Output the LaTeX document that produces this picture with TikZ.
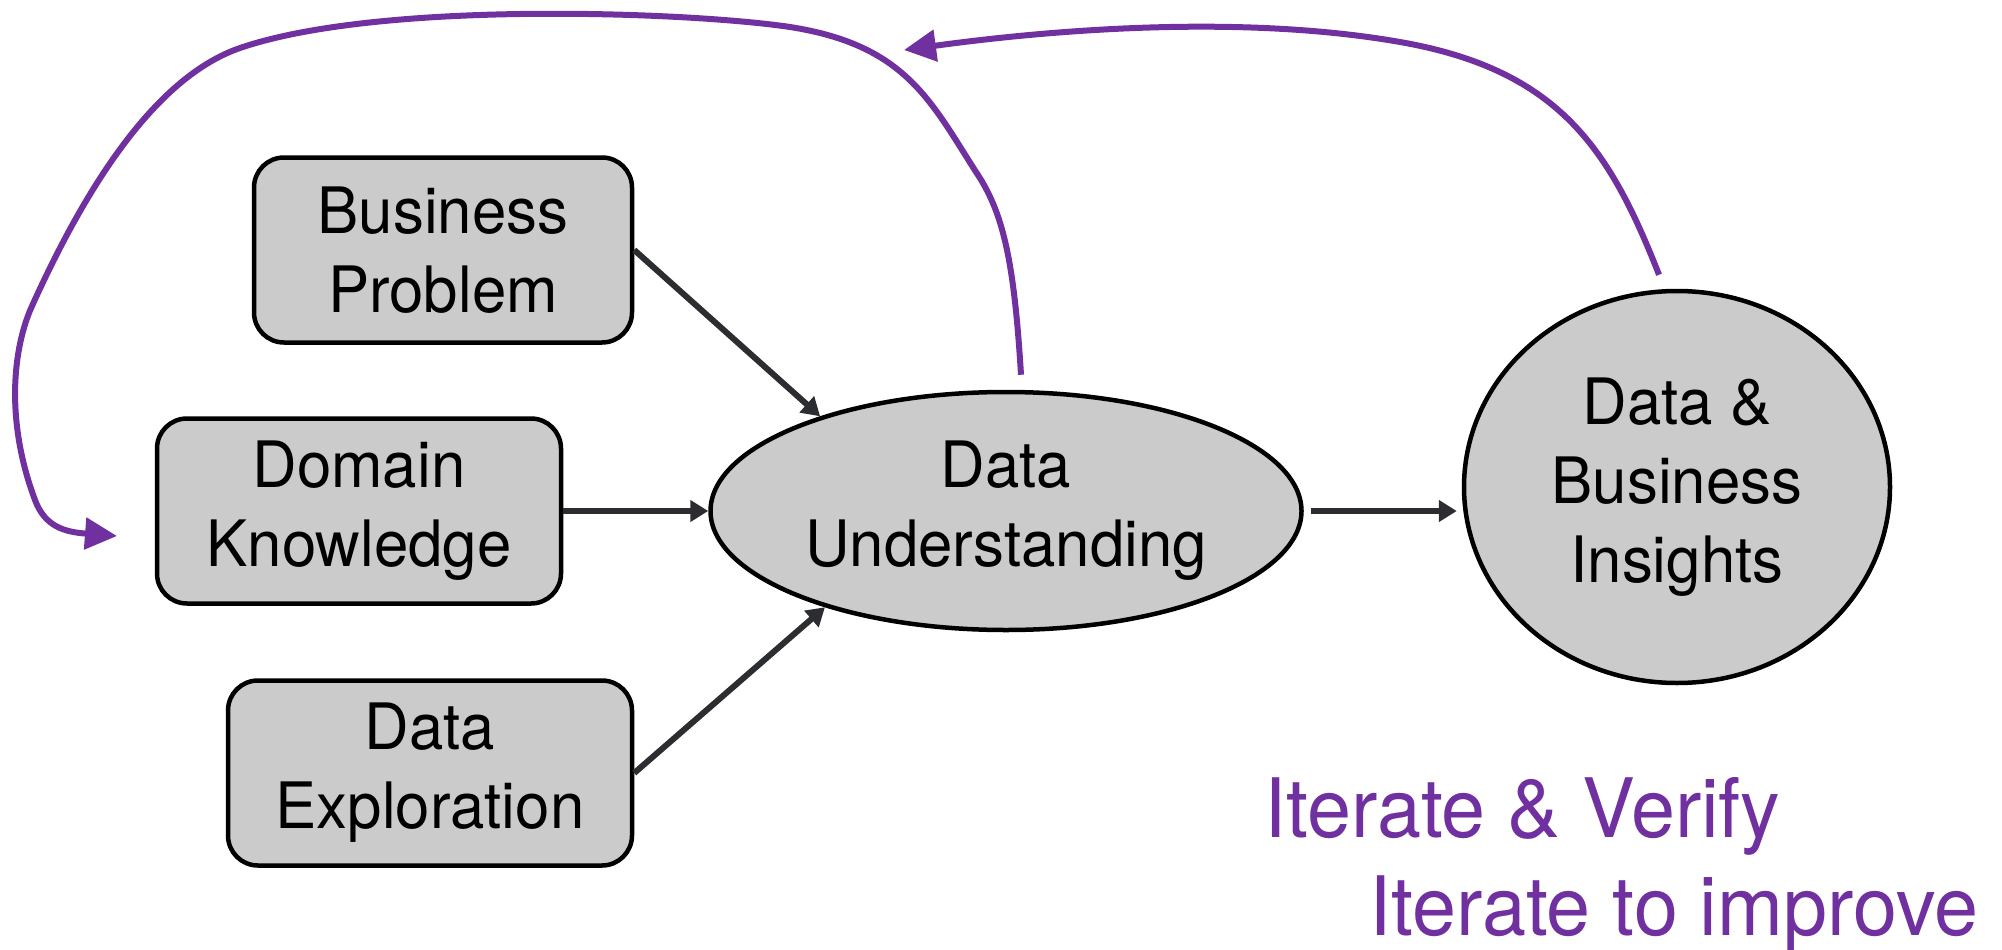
\documentclass[tikz,border=0pt]{standalone}
\usepackage{fontspec}
\setmainfont{TeX Gyre Heros}[FakeStretch=0.965]
\usetikzlibrary{arrows.meta,shapes.geometric}

\definecolor{boxgray}{HTML}{CBCBCB}
\definecolor{arrowdark}{HTML}{2B2D31}
\definecolor{loopviolet}{HTML}{7030A0}

\tikzset{
  stagebox/.style={draw=black, line width=4.5pt, fill=boxgray, rounded corners=30pt,
    minimum width=378pt, minimum height=185pt, inner sep=0pt, align=center,
    font=\fontsize{64pt}{79pt}\selectfont},
  stageoval/.style={draw=black, line width=4.5pt, fill=boxgray, ellipse,
    inner sep=0pt, align=center, font=\fontsize{64pt}{79pt}\selectfont},
  flow/.style={draw=arrowdark, line width=6pt, -{Triangle[length=18pt,width=21pt]}},
  loop/.style={draw=loopviolet, line width=6pt,
    -{Triangle[length=32pt,width=31pt]}},
  note/.style={text=loopviolet, inner sep=0pt, font=\fontsize{82pt}{82pt}\selectfont}
}

\begin{document}
\begin{tikzpicture}[x=1pt, y=-1pt]
\useasboundingbox (0,0) rectangle (2002,950);

% input stages
\node[stagebox] (bp) at (443,250) {Business\\Problem};
\node[stagebox, minimum width=404pt] (dk) at (359,511) {Domain\\Knowledge};
\node[stagebox, minimum width=404pt] (de) at (430,773) {Data\\Exploration};

% central understanding and resulting insights
\node[stageoval, minimum width=591pt, minimum height=238pt] (du) at (1006,511) {Data\\Understanding};
\node[stageoval, minimum width=426pt, minimum height=392pt] (dbi) at (1677,487) {Data \&\\Business\\Insights};

% forward flow
\draw[flow] (bp.east) -- (du.153);
\draw[flow] (dk.east) -- (du.west);
\draw[flow] (de.east) -- (du.208);
\draw[flow] ([xshift=7pt]du.east) -- ([xshift=-5pt]dbi.west |- du.east);

% feedback loop: understanding back to the inputs
\coordinate (fbStart) at ([shift={(15,-15)}]du.north);
\coordinate (fbTip) at (117,536);
\draw[loop] (fbStart)
  .. controls (1014,260) and (1003,212) .. (976,172)
  .. controls (930,100) and (905,45) .. (790,27)
  .. controls (690,12) and (380,0) .. (240,48)
  .. controls (150,79) and (80,200) .. (32,306)
  .. controls (13,348) and (5,420) .. (35,500)
  .. controls (45,527) and (65,532) .. (fbTip);

% feedback loop: insights back to understanding
\coordinate (backStart) at ([shift={(-18,-14)}]dbi.north);
\coordinate (backTip) at (904,50);
\draw[loop] (backStart)
  .. controls (1610,150) and (1560,70) .. (1400,42)
  .. controls (1240,14) and (1050,30) .. (backTip);

% captions
\node[note, anchor=base west] (iv) at (1264,837) {Iterate \& Verify};
\node[note, anchor=base west] (ii) at (1369,935) {Iterate to improve};
\end{tikzpicture}
\end{document}
